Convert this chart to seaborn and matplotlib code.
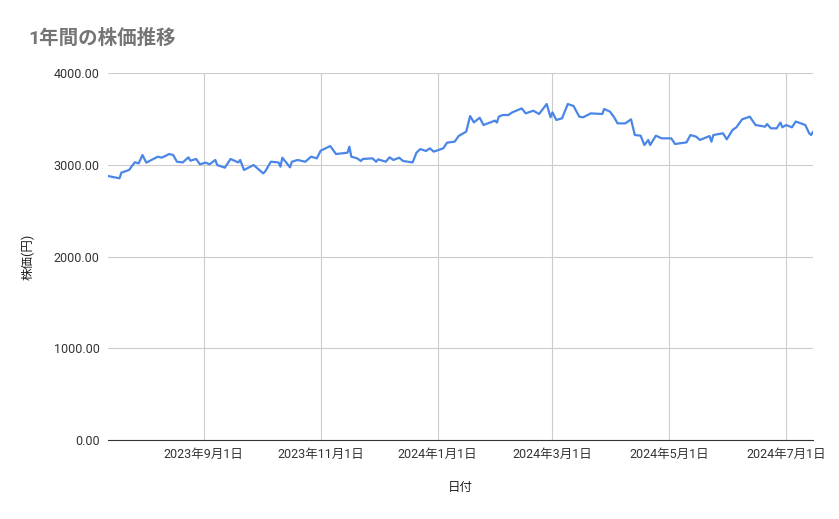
import matplotlib
matplotlib.use("Agg")
import matplotlib.pyplot as plt
import pandas as pd
import seaborn as sns

# days since 2023-07-13 and closing price
day_offsets = [0, 6, 7, 11, 14, 16, 18, 20, 26, 28, 32, 34, 36, 39, 42, 43, 46, 48, 51, 53,
               56, 57, 61, 64, 68, 69, 71, 76, 77, 81, 82, 85, 89, 90, 91, 95, 96, 99, 103, 106,
               109, 111, 116, 119, 125, 126, 127, 130, 132, 133, 138, 140, 141, 145, 147, 149, 152, 154, 159, 161,
               163, 166, 168, 170, 175, 177, 181, 183, 187, 189, 191, 194, 196, 202, 203, 204, 206, 209, 211, 216,
               218, 222, 225, 229, 231, 232, 234, 237, 240, 243, 246, 248, 252, 258, 259, 262, 264, 266, 270, 273,
               275, 278, 280, 282, 283, 286, 289, 294, 296, 302, 304, 307, 309, 314, 315, 316, 321, 323, 326, 328,
               331, 335, 338, 343, 344, 346, 349, 351, 352, 354, 357, 359, 364, 366, 367, 368]
prices = [2877, 2852, 2914, 2943, 3027, 3015, 3106, 3023, 3088, 3077, 3117, 3106, 3033, 3025, 3081, 3044, 3063, 3005, 3023, 3005,
          3052, 2997, 2968, 3063, 3025, 3052, 2943, 2997, 2979, 2906, 2925, 3033, 3025, 2979, 3077, 2972, 3033, 3052, 3033, 3088,
          3070, 3153, 3204, 3117, 3131, 3197, 3088, 3070, 3041, 3063, 3070, 3033, 3059, 3033, 3081, 3052, 3077, 3041, 3025, 3131,
          3171, 3150, 3179, 3143, 3179, 3241, 3252, 3313, 3361, 3531, 3462, 3513, 3433, 3481, 3460, 3524, 3542, 3542, 3571, 3614,
          3560, 3589, 3553, 3662, 3517, 3571, 3488, 3506, 3662, 3640, 3524, 3517, 3560, 3553, 3608, 3579, 3524, 3451, 3451, 3495,
          3324, 3317, 3215, 3270, 3215, 3317, 3288, 3288, 3226, 3244, 3324, 3306, 3270, 3313, 3252, 3324, 3343, 3277, 3379, 3408,
          3495, 3524, 3433, 3415, 3444, 3397, 3397, 3460, 3408, 3433, 3408, 3471, 3433, 3343, 3324, 3361]
tick_dates = ["2023-09-01", "2023-11-01", "2024-01-01", "2024-03-01", "2024-05-01", "2024-07-01"]

start = pd.Timestamp("2023-07-13")
df = pd.DataFrame({"date": [start + pd.Timedelta(days=d) for d in day_offsets], "price": prices})

sns.set_style("white")
plt.rcParams["font.family"] = ["Roboto", "Noto Sans CJK JP", "DejaVu Sans"]

fig = plt.figure(figsize=(8.39, 5.19), dpi=100)
ax = fig.add_axes([108 / 839, 1 - 440 / 519, 705 / 839, 367 / 519])
sns.lineplot(data=df, x="date", y="price", ax=ax, color="#4a86e8", linewidth=1.6)

ax.set_xlim(start, start + pd.Timedelta(days=368))
ax.set_ylim(0, 4000)
ax.set_yticks([0, 1000, 2000, 3000, 4000])
ax.set_yticklabels([f"{v:.2f}" for v in [0, 1000, 2000, 3000, 4000]])
ticks = [pd.Timestamp(t) for t in tick_dates]
ax.set_xticks(ticks)
ax.set_xticklabels([f"{t.year}年{t.month}月{t.day}日" for t in ticks])
ax.grid(True, color="#cccccc", linewidth=0.8)
for s in ["top", "right", "left"]:
    ax.spines[s].set_visible(False)
ax.spines["bottom"].set_color("#333333")
ax.tick_params(axis="both", length=0, labelsize=9, colors="#333333", pad=6)
ax.set_xlabel("日付", fontsize=9, color="#222222", labelpad=14)
ax.set_ylabel("株価(円)", fontsize=9, color="#222222", labelpad=14)
fig.text(28 / 839, 1 - 38 / 519, "1年間の株価推移", fontsize=14, color="#757575",
         va="center", fontweight="bold")

fig.savefig("out.png", dpi=100)
